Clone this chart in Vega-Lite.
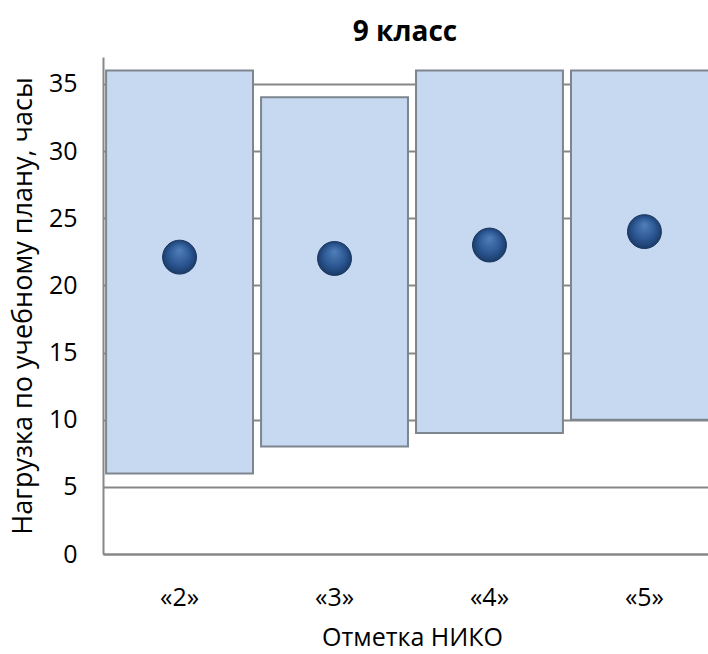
{
  "$schema": "https://vega.github.io/schema/vega-lite/v6.json",
  "width": 618,
  "height": 497,
  "autosize": {"type": "none"},
  "padding": {"left": 103, "top": 57, "right": 0, "bottom": 100},
  "background": "white",
  "title": {
    "text": "9 класс",
    "font": "Open Sans",
    "fontSize": 28,
    "fontWeight": "bold",
    "color": "#000000",
    "anchor": "middle",
    "dx": -7,
    "offset": 10
  },
  "config": {
    "view": {"stroke": null},
    "font": "Open Sans"
  },
  "data": {
    "values": [
      {"grade": "«2»", "min": 6, "max": 36, "mean": 22.1},
      {"grade": "«3»", "min": 8, "max": 34, "mean": 22.0},
      {"grade": "«4»", "min": 9, "max": 36, "mean": 23.0},
      {"grade": "«5»", "min": 10, "max": 36, "mean": 24.0}
    ]
  },
  "encoding": {
    "x": {
      "field": "grade",
      "type": "nominal",
      "sort": null,
      "scale": {"paddingInner": 0.052, "paddingOuter": 0.02},
      "axis": {
        "title": "Отметка НИКО",
        "titleFont": "Open Sans",
        "titleFontSize": 25,
        "titleFontWeight": "normal",
        "titleColor": "#000000",
        "titlePadding": 15,
        "labelFont": "Open Sans",
        "labelFontSize": 25,
        "labelColor": "#000000",
        "labelAngle": 0,
        "labelPadding": 31,
        "ticks": false,
        "domainColor": "#878787",
        "domainWidth": 2,
        "grid": false
      }
    }
  },
  "layer": [
    {
      "mark": {
        "type": "bar",
        "fill": "#C6D9F1",
        "stroke": "#7D858F",
        "strokeWidth": 2
      },
      "encoding": {
        "y": {
          "field": "min",
          "type": "quantitative",
          "scale": {"domain": [0, 37], "nice": false},
          "axis": {
            "title": "Нагрузка по учебному плану, часы",
            "titleFont": "Open Sans",
            "titleFontSize": 27,
            "titleFontWeight": "normal",
            "titleColor": "#000000",
            "titlePadding": 11,
            "values": [0, 5, 10, 15, 20, 25, 30, 35],
            "labelFont": "Open Sans",
            "labelFontSize": 25,
            "labelColor": "#000000",
            "labelPadding": 26,
            "ticks": false,
            "domainColor": "#878787",
            "domainWidth": 2,
            "grid": true,
            "gridColor": "#878787",
            "gridWidth": 2,
            "gridOpacity": 1
          }
        },
        "y2": {"field": "max"}
      }
    },
    {
      "mark": {
        "type": "point",
        "shape": "circle",
        "filled": true,
        "size": 1150,
        "opacity": 1,
        "strokeWidth": 1,
        "stroke": "#1A355C",
        "fill": {
          "gradient": "radial",
          "x1": 0.5, "y1": 0.3, "r1": 0.02,
          "x2": 0.5, "y2": 0.5, "r2": 0.55,
          "stops": [
            {"offset": 0, "color": "#4F7DB8"},
            {"offset": 0.6, "color": "#2A5590"},
            {"offset": 1, "color": "#173560"}
          ]
        }
      },
      "encoding": {
        "y": {"field": "mean", "type": "quantitative"}
      }
    }
  ]
}
